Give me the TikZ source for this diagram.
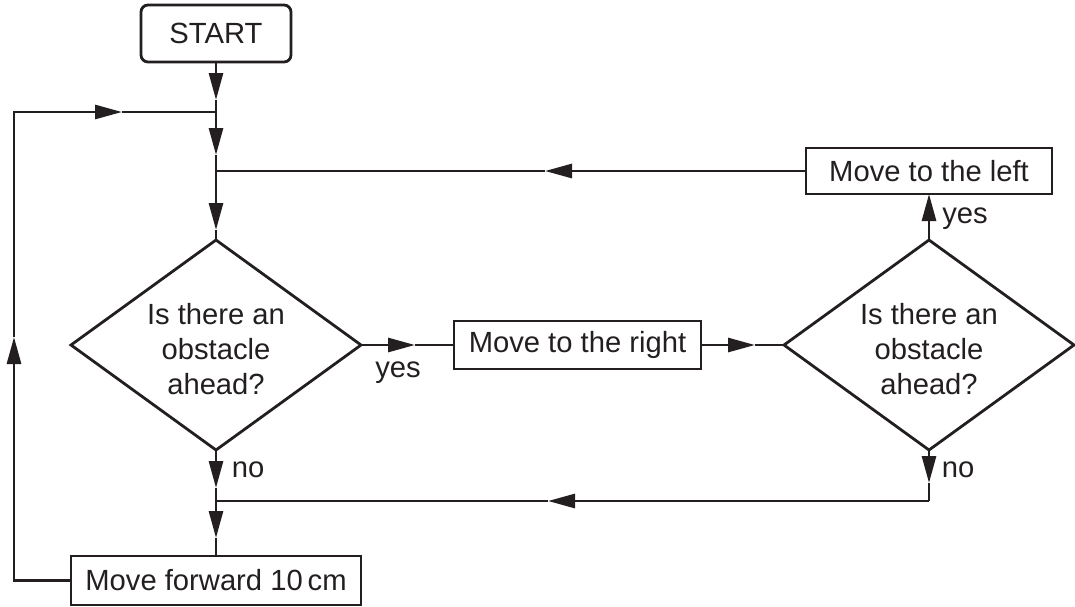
\documentclass[tikz,border=0pt]{standalone}
\usepackage{fontspec}
\setmainfont{Liberation Sans}
\usetikzlibrary{shapes.geometric,arrows.meta}
\definecolor{ink}{RGB}{35,31,32}
\tikzset{
  every node/.style={font=\fontsize{14.6pt}{17.5pt}\selectfont, text=ink},
  box/.style={draw=ink, line width=1.4pt, rectangle, inner sep=0pt, outer sep=0pt},
  startbox/.style={box, rounded corners=3.5pt, minimum width=75pt, minimum height=28.5pt},
  dia/.style={draw=ink, line width=1.4pt, diamond, inner sep=0pt, outer sep=0pt,
              minimum width=145pt, minimum height=105pt},
  conn/.style={draw=ink, line width=1.4pt},
  arrconn/.style={conn, -{Triangle[length=13.5pt,width=7pt]}},
  lbl/.style={anchor=base, inner sep=0pt}
}
\begin{document}
\begin{tikzpicture}[x=0.5pt,y=-0.5pt]
\useasboundingbox (0,0) rectangle (1075,606);
% nodes
\node[startbox] (start) at (216,33.5) {START};
\node[dia] (d1) at (216,345) {};
\node[align=center, inner sep=0pt] (t1) at (216,349) {Is there an\\obstacle\\ahead?};
\node[box, minimum width=123.5pt, minimum height=24pt] (mr) at (577.5,345) {Move to the right};
\node[dia] (d2) at (929,345) {};
\node[align=center, inner sep=0pt] (t2) at (929,349) {Is there an\\obstacle\\ahead?};
\node[box, minimum width=123pt, minimum height=23pt] (ml) at (929,171) {Move to the left};
\node[box, minimum width=145pt, minimum height=24.5pt] (mf) at (216,580.5) {Move forward 10\,cm};
% junctions and arrow tip points
\coordinate (j1) at (216,112);
\coordinate (j2) at (216,171);
\coordinate (j3) at (216,501);
\coordinate (j4) at (929,501);
\coordinate (lc) at (14,112);
\coordinate (a1) at (216,100);
\coordinate (a2) at (216,155);
\coordinate (a3) at (216,230);
\coordinate (a4) at (415,345);
\coordinate (a5) at (755,345);
\coordinate (a7) at (545,171);
\coordinate (a8) at (929,483);
\coordinate (a9) at (548,501);
\coordinate (a10) at (216,488);
\coordinate (a11) at (216,538);
\coordinate (a12) at (14,337);
\coordinate (a13) at (122,112);
% labels
\node[lbl] (y1) at (398,377) {yes};
\node[lbl] (y2) at (965,223) {yes};
\node[lbl] (n1) at (248,477) {no};
\node[lbl] (n2) at (958,477) {no};
% connectors
\draw[arrconn] (start.south) -- (a1);
\draw[conn] (a1) -- (j1);
\draw[arrconn] (j1) -- (a2);
\draw[conn] (a2) -- (j2);
\draw[arrconn] (j2) -- (a3);
\draw[conn] (a3) -- (d1.north);
\draw[arrconn] (d1.east) -- (a4);
\draw[conn] (a4) -- (mr.west);
\draw[arrconn] (mr.east) -- (a5);
\draw[conn] (a5) -- (d2.west);
\draw[arrconn] (d2.north) -- (ml.south);
\draw[arrconn] (ml.west) -- (a7);
\draw[conn] (a7) -- (j2);
\draw[arrconn] (d2.south) -- (a8);
\draw[conn] (a8) -- (j4);
\draw[arrconn] (j4) -- (a9);
\draw[conn] (a9) -- (j3);
\draw[arrconn] (d1.south) -- (a10);
\draw[conn] (a10) -- (j3);
\draw[arrconn] (j3) -- (a11);
\draw[conn] (a11) -- (mf.north);
\draw[arrconn] (mf.west) -| (a12);
\draw[arrconn] (a12) -- (lc) -- (a13);
\draw[conn] (a13) -- (j1);
\end{tikzpicture}
\end{document}
